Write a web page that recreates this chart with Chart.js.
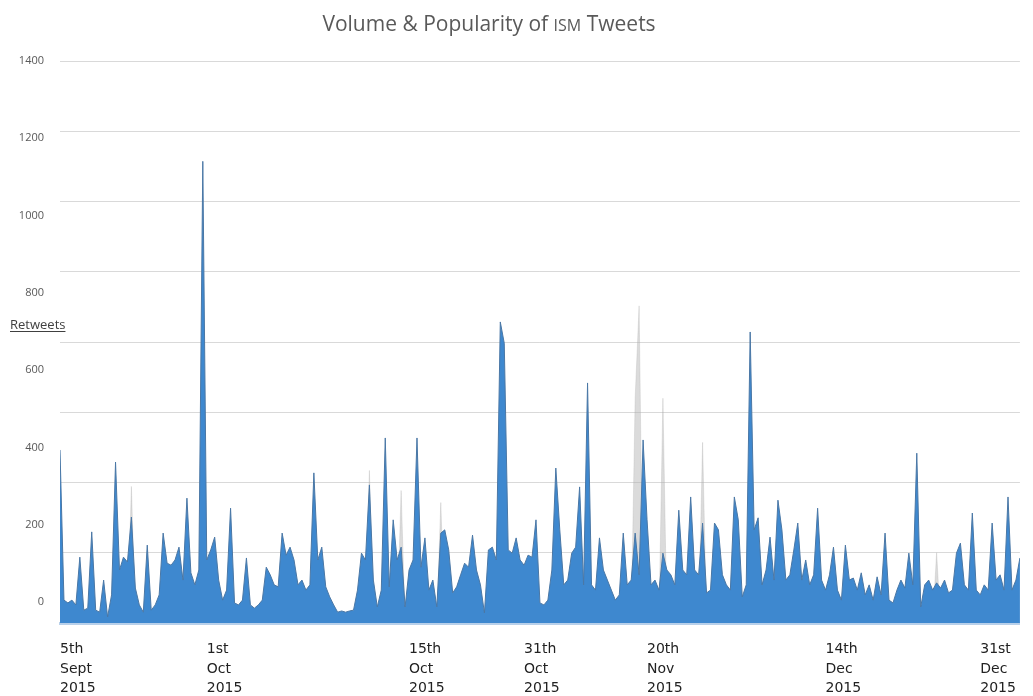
<!DOCTYPE html>
<html>
<head>
<meta charset="utf-8">
<script src="https://cdn.jsdelivr.net/npm/chart.js@4.4.0/dist/chart.umd.min.js"></script>
<style>
  html, body { margin: 0; padding: 0; background: #fff; }
  #wrap { width: 1033px; height: 696px; }
</style>
</head>
<body>
<div id="wrap"><canvas id="getChart"></canvas></div>
<script>
// retweets per time slot, 5 Sept 2015 -> 31 Dec 2015
var retweets = [
    431, 57, 50, 57, 45, 164, 32, 37, 227, 32,
    27, 107, 15, 70, 401, 132, 164, 152, 264, 87,
    45, 27, 194, 32, 45, 70, 224, 149, 144, 157,
    189, 107, 311, 125, 95, 132, 1150, 157, 182, 214,
    107, 57, 82, 286, 50, 45, 57, 162, 45, 37,
    45, 57, 139, 120, 95, 90, 224, 169, 189, 157,
    95, 107, 82, 95, 374, 157, 189, 90, 65, 45,
    27, 30, 27, 30, 32, 82, 174, 157, 344, 107,
    40, 82, 461, 90, 257, 157, 189, 40, 132, 157,
    461, 139, 212, 82, 107, 40, 224, 232, 182, 75,
    90, 120, 149, 139, 219, 132, 95, 25, 182, 189,
    157, 750, 697, 182, 174, 212, 157, 144, 169, 164,
    257, 50, 45, 57, 132, 386, 232, 95, 107, 174,
    189, 339, 95, 598, 95, 82, 212, 132, 107, 82,
    57, 70, 224, 95, 107, 224, 120, 456, 257, 95,
    107, 82, 174, 132, 120, 95, 281, 132, 120, 314,
    132, 120, 249, 75, 82, 249, 232, 120, 95, 82,
    314, 257, 65, 95, 725, 232, 262, 95, 132, 214,
    107, 306, 232, 107, 120, 182, 249, 107, 157, 95,
    120, 286, 107, 82, 120, 189, 82, 57, 194, 107,
    112, 82, 125, 70, 95, 57, 115, 70, 224, 57,
    50, 82, 107, 87, 174, 95, 423, 40, 95, 107,
    82, 100, 87, 107, 75, 82, 174, 199, 95, 82,
    274, 82, 70, 95, 82, 249, 107, 120, 82, 314,
    82, 107, 162
];

// faint grey ghost peaks behind the blue area
var ghostIndex = [18, 78, 86, 96, 145, 146, 152, 162, 221];
var ghostValues = [340, 380, 330, 300, 560, 790, 560, 450, 175];

var yTickLabels = [0, 200, 400, 600, 800, 1000, 1200, 1400];
var xTickIndex = [0, 37, 88, 117, 148, 193, 232];
var xTickLabels = [
    ["5th", "Sept", "2015"],
    ["1st", "Oct", "2015"],
    ["15th", "Oct", "2015"],
    ["31th", "Oct", "2015"],
    ["20th", "Nov", "2015"],
    ["14th", "Dec", "2015"],
    ["31st", "Dec", "2015"]
];

var bluePoints = retweets.map(function (v, i) { return { x: i, y: v }; });

var ghostMap = {};
ghostIndex.forEach(function (idx, k) { ghostMap[idx] = ghostValues[k]; });
ghostIndex.forEach(function (idx) {
    if (ghostMap[idx - 1] === undefined) ghostMap[idx - 1] = 0;
    if (ghostMap[idx + 1] === undefined) ghostMap[idx + 1] = 0;
});
var greyPoints = Object.keys(ghostMap).map(Number).sort(function (a, b) { return a - b; })
    .map(function (k) { return { x: k, y: ghostMap[k] }; });

var textPlugin = {
    id: "texts",
    afterDraw: function (chart) {
        var c = chart.ctx;
        c.save();
        c.fillStyle = "#595959";
        c.textBaseline = "alphabetic";
        c.textAlign = "left";
        var big = '21px "Open Sans"', small = '16px "Open Sans"';
        var parts = [["Volume & Popularity of ", big], ["ISM", small], [" Tweets", big]];
        var w = 0;
        parts.forEach(function (p) { c.font = p[1]; w += c.measureText(p[0]).width; });
        var x = 489 - w / 2;
        parts.forEach(function (p) { c.font = p[1]; c.fillText(p[0], x, 31); x += c.measureText(p[0]).width; });

        // axis label, underlined
        c.font = '13px "Open Sans"';
        c.fillStyle = "#404040";
        c.fillText("Retweets", 10, 329);
        var rw = c.measureText("Retweets").width;
        c.fillRect(10, 331, rw, 1);
        c.restore();
    }
};

var ctx = document.getElementById("getChart");
var chart = new Chart(ctx, {
    type: "line",
    data: {
        datasets: [{
                label: "Retweets",
                data: bluePoints,
                backgroundColor: "#3e88cf",
                borderColor: "#4a77a5",
                borderWidth: 1,
                pointRadius: 0,
                tension: 0,
                fill: "start"
            },
            {
                label: "ghost",
                data: greyPoints,
                backgroundColor: "rgba(175, 175, 175, 0.45)",
                borderColor: "rgba(175, 175, 175, 0.3)",
                borderWidth: 1,
                pointRadius: 0,
                tension: 0,
                fill: "start"
            }
        ]
    },
    options: {
        responsive: true,
        maintainAspectRatio: false,
        animation: false,
        layout: { padding: { top: 61, right: 3, left: 0, bottom: 0 } },
        plugins: {
            legend: { display: false },
            tooltip: { enabled: false }
        },
        scales: {
            x: {
                type: "linear",
                min: 0,
                max: retweets.length - 1,
                grid: { display: false, drawTicks: false },
                border: { display: true, color: "#b8d0ea", width: 3 },
                afterBuildTicks: function (s) {
                    s.ticks = xTickIndex.map(function (v) { return { value: v }; });
                },
                afterFit: function (s) { s.height = 73; },
                ticks: {
                    autoSkip: false,
                    maxRotation: 0,
                    align: "start",
                    padding: 17,
                    color: "#222",
                    font: { family: "DejaVu Sans", size: 14, lineHeight: 1.38 },
                    callback: function (value) {
                        var k = xTickIndex.indexOf(value);
                        return k >= 0 ? xTickLabels[k] : "";
                    }
                }
            },
            y: {
                position: "left",
                min: 0,
                max: 1400,
                grid: { color: "#d9d9d9", lineWidth: 1, drawTicks: false },
                border: { display: false },
                ticks: { display: false, stepSize: 175 },
                afterFit: function (s) { s.width = 0; }
            },
            yL: {
                position: "left",
                min: -54.3,
                max: 1400,
                grid: { display: false, drawTicks: false },
                border: { display: false },
                afterBuildTicks: function (s) {
                    s.ticks = yTickLabels.map(function (v) { return { value: v }; });
                },
                afterFit: function (s) { s.width = 60; },
                ticks: {
                    padding: 16,
                    color: "#595959",
                    font: { family: "Open Sans", size: 11 },
                    callback: function (value) { return String(value); }
                }
            }
        }
    },
    plugins: [textPlugin]
});
</script>
</body>
</html>
